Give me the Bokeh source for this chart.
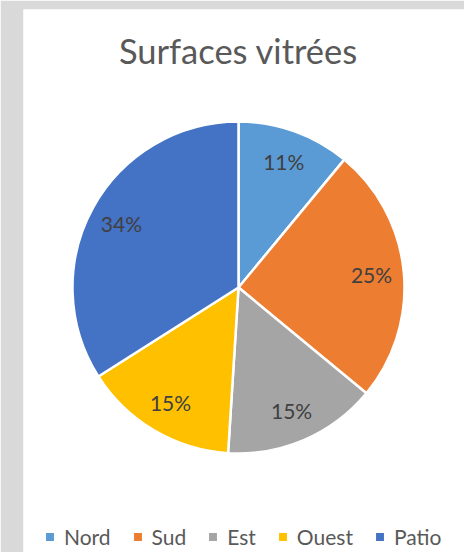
import math

from bokeh.core.properties import value
from bokeh.embed import file_html
from bokeh.models import ColumnDataSource, Label, Legend, LegendItem, Range1d
from bokeh.plotting import figure
from bokeh.resources import INLINE

# --- data -------------------------------------------------------------
title_text = "Surfaces vitrées"
categories = ["Nord", "Sud", "Est", "Ouest", "Patio"]
shares = [11, 25, 15, 15, 34]          # percent of glazed area
colors = ["#5B9BD5", "#ED7D31", "#A5A5A5", "#FFC000", "#4472C4"]

# --- layout (pixels) ----------------------------------------------------
W, H = 464, 552
PAD_LEFT, PAD_TOP = 23, 9
frame_w, frame_h = W - PAD_LEFT, H - PAD_TOP
R = 166                     # pie radius
cx, cy = 215, 278           # pie centre, measured from frame top-left

FONT = "Lato"

# data units: pie centred on (0, 0) with radius 1
x_range = Range1d(-cx / R, (frame_w - cx) / R)
y_range = Range1d(-(frame_h - cy) / R, cy / R)

p = figure(
    width=W, height=H,
    x_range=x_range, y_range=y_range,
    x_axis_type=None, y_axis_type=None,
    output_backend="svg", toolbar_location=None,
    min_border_left=PAD_LEFT, min_border_top=PAD_TOP,
    min_border_right=0, min_border_bottom=0,
    border_fill_color="#D9D9D9", background_fill_color="white",
    outline_line_color=None,
)
p.grid.visible = False

# wedge angles, clockwise from 12 o'clock
total = float(sum(shares))
starts, ends, mids = [], [], []
acc = 0.0
for v in shares:
    a0 = math.pi / 2 - 2 * math.pi * acc / total
    acc += v
    a1 = math.pi / 2 - 2 * math.pi * acc / total
    starts.append(a0)
    ends.append(a1)
    mids.append((a0 + a1) / 2)

items = []
for i, name in enumerate(categories):
    r = p.wedge(
        x=0, y=0, radius=1,
        start_angle=starts[i], end_angle=ends[i], direction="clock",
        fill_color=colors[i], line_color="white", line_width=2.5,
    )
    items.append(LegendItem(label=name, renderers=[r]))

# percentage labels inside the slices
lab_r = 0.805
lab_src = ColumnDataSource(dict(
    x=[lab_r * math.cos(m) for m in mids],
    y=[lab_r * math.sin(m) for m in mids],
    text=[f"{v}%" for v in shares],
))
p.text(
    x="x", y="y", text="text", source=lab_src,
    text_font=value(FONT), text_font_size="21px", text_color="#404040",
    text_align="center", text_baseline="middle",
)

# chart title
p.add_layout(Label(
    x=0, y=(cy - 41) / R, text=title_text,
    text_font=FONT, text_font_size="34.5px", text_color="#595959",
    text_align="center", text_baseline="alphabetic",
))

legend = Legend(
    items=items, orientation="horizontal", location=(20, 3),
    glyph_width=13, glyph_height=13, label_standoff=8, spacing=20,
    padding=0, margin=0, border_line_alpha=0, background_fill_alpha=0,
    label_text_font=FONT, label_text_font_size="21px",
    label_text_color="#595959",
)
p.add_layout(legend)

open("out.html", "w").write(file_html(p, INLINE))
